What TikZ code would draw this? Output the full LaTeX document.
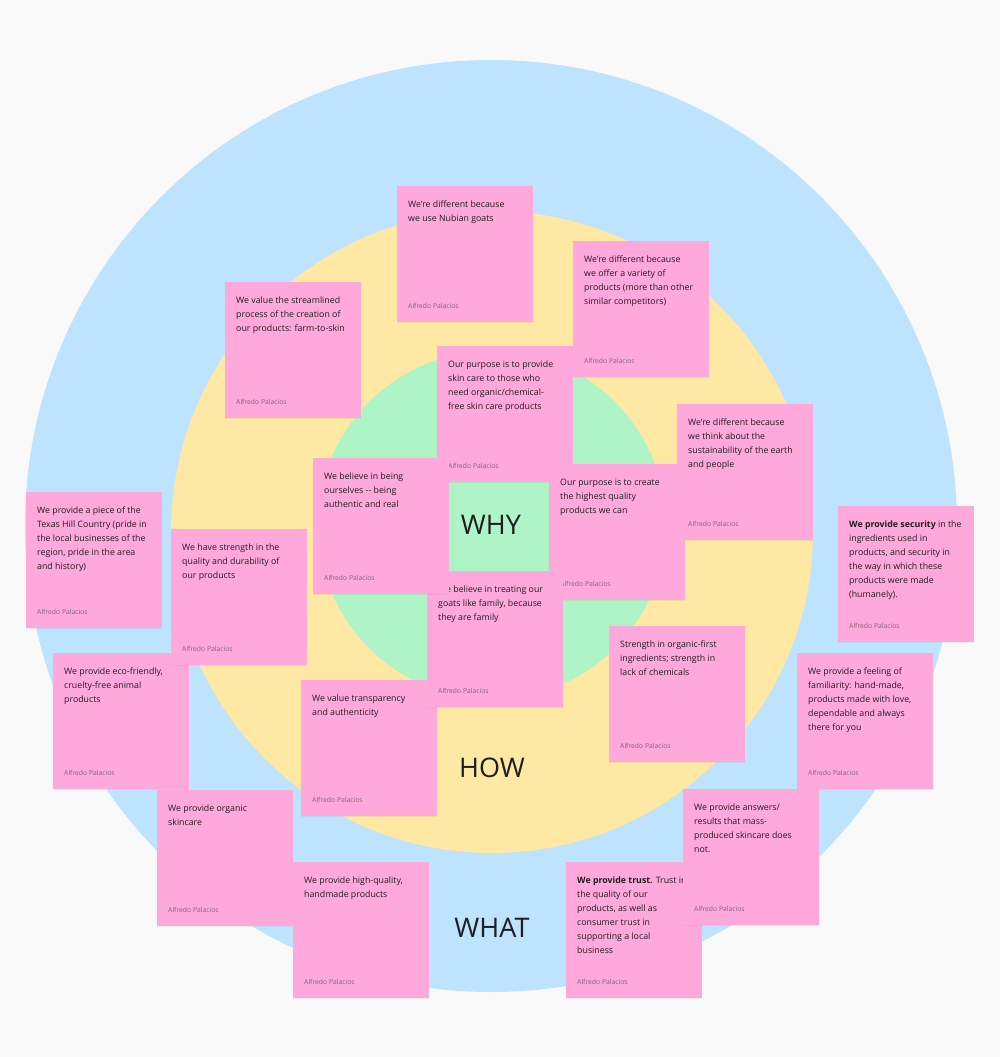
\documentclass[tikz,border=0pt]{standalone}
\usepackage{fontspec}
\setmainfont{Open Sans}
\usepackage{xcolor}
\usetikzlibrary{positioning,shapes,shadows,calc}

\definecolor{pagebg}{HTML}{F9F9F9}
\definecolor{ringblue}{HTML}{BDE3FF}
\definecolor{ringyellow}{HTML}{FFE8A3}
\definecolor{ringgreen}{HTML}{AFF4C6}
\definecolor{stickypink}{HTML}{FFA8DB}
\definecolor{inkdark}{HTML}{1E1E1E}
\definecolor{inkgray}{HTML}{7A6A74}

% one sticky note: name, left, top, text
\newcommand{\stickynote}[4]{%
  \node[sticky] (#1) at (#2,#3) {};
  \node[stickytext] (#1-text) at ([shift={(11,15)}]#1.north west) {#4};
  \node[author] (#1-author) at ([shift={(11,-14)}]#1.south west) {Alfredo Palacios};
}

\begin{document}
\begin{tikzpicture}[
    x=1pt, y=-1pt,
    ring/.style={circle, minimum size=#1, inner sep=0pt, draw=none},
    ringlabel/.style={font=\fontsize{27}{30}\selectfont, text=inkdark, inner sep=0pt},
    sticky/.style={rectangle, fill=stickypink, minimum width=136pt, minimum height=136pt,
        anchor=north west, inner sep=0pt,
        drop shadow={shadow xshift=0pt, shadow yshift=-1.2pt, opacity=0.10}},
    stickytext/.style={anchor=north west, align=left, inner sep=0pt,
        font=\fontsize{8.8}{14}\selectfont, text=inkdark},
    author/.style={anchor=base west, inner sep=0pt,
        font=\fontsize{6.8}{8}\selectfont, text=inkgray}
]
    \useasboundingbox (0,0) rectangle (1000,1057);
    \fill[pagebg] (0,0) rectangle (1000,1057);

    % the three rings
    \node[ring=932pt, fill=ringblue] (what) at (491,526) {};
    \node[ring=642pt, fill=ringyellow] (how) at (492,532) {};
    \node[ring=348pt, fill=ringgreen] (why) at (492,525) {};

    \node[ringlabel] (why-label) at (491,525) {WHY};
    \node[ringlabel] (how-label) at (492,768) {HOW};
    \node[ringlabel] (what-label) at (492,928) {WHAT};

    % notes, back to front
    \stickynote{nubian}{397}{186}{We're different because\\we use Nubian goats}
    \stickynote{variety}{573}{241}{We're different because\\we offer a variety of\\products (more than other\\similar competitors)}
    \stickynote{farm}{225}{282}{We value the streamlined\\process of the creation of\\our products: farm-to-skin}
    \stickynote{purpose}{437}{346}{Our purpose is to provide\\skin care to those who\\need organic/chemical-\\free skin care products}
    \stickynote{earth}{677}{404}{We're different because\\we think about the\\sustainability of the earth\\and people}
    \stickynote{quality}{549}{464}{Our purpose is to create\\the highest quality\\products we can}
    \stickynote{transparency}{301}{680}{We value transparency\\and authenticity}
    \stickynote{goats}{427}{571}{We believe in treating our\\goats like family, because\\they are family}
    \stickynote{ourselves}{313}{458}{We believe in being\\ourselves -{}- being\\authentic and real}
    \stickynote{texas}{26}{492}{We provide a piece of the\\Texas Hill Country (pride in\\the local businesses of the\\region, pride in the area\\and history)}
    \stickynote{security}{838}{506}{\textbf{We provide security} in the\\ingredients used in\\products, and security in\\the way in which these\\products were made\\(humanely).}
    \stickynote{ecofriendly}{53}{653}{We provide eco-friendly,\\cruelty-free animal\\products}
    \stickynote{durability}{171}{529}{We have strength in the\\quality and durability of\\our products}
    \stickynote{familiarity}{797}{653}{We provide a feeling of\\familiarity: hand-made,\\products made with love,\\dependable and always\\there for you}
    \stickynote{organic}{609}{626}{Strength in organic-first\\ingredients; strength in\\lack of chemicals}
    \stickynote{skincare}{157}{790}{We provide organic\\skincare}
    \stickynote{handmade}{293}{862}{We provide high-quality,\\handmade products}
    \stickynote{trust}{566}{862}{\textbf{We provide trust.} Trust in\\the quality of our\\products, as well as\\consumer trust in\\supporting a local\\business}
    \stickynote{answers}{683}{789}{We provide answers/\\results that mass-\\produced skincare does\\not.}
\end{tikzpicture}
\end{document}
